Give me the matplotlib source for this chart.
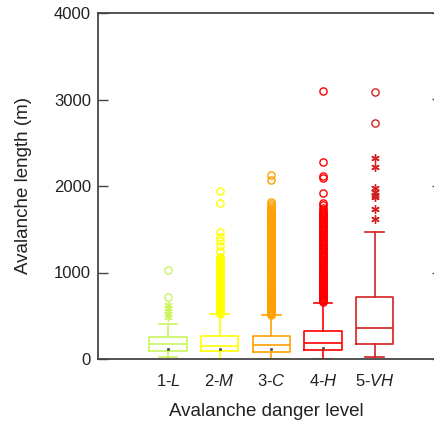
import matplotlib
matplotlib.use('Agg')
import matplotlib.pyplot as plt

plt.rcParams['font.family'] = ['Liberation Sans', 'DejaVu Sans']
plt.rcParams['mathtext.fontset'] = 'custom'
plt.rcParams['mathtext.it'] = 'Liberation Sans:italic'
plt.rcParams['mathtext.rm'] = 'Liberation Sans'

# ---- data ----
level_numbers = ['1', '2', '3', '4', '5']
level_letters = ['L', 'M', 'C', 'H', 'VH']
q1_values = [92, 92, 85, 104, 170]
median_values = [170, 154, 162, 189, 355]
q3_values = [254, 270, 266, 327, 720]
whisker_low = [27, 0, 0, 0, 20]
whisker_high = [405, 517, 509, 651, 1465]

outliers_L = [720, 1032]
extremes_L = [490, 525, 560, 595, 620]

outliers_M = [522, 534, 546, 558, 570, 582, 594, 606, 618, 630, 642, 654, 666,
              678, 690, 702, 714, 726, 738, 750, 762, 774, 786, 798, 810, 822,
              834, 846, 858, 870, 882, 894, 906, 918, 930, 942, 954, 966, 978,
              990, 1002, 1014, 1026, 1038, 1050, 1062, 1074, 1086, 1098, 1110,
              1122, 1134, 1146, 1158, 1170, 1180, 1250, 1305, 1365, 1415, 1465,
              1800, 1946]
extremes_M = []

outliers_C = [512, 524, 536, 548, 560, 572, 584, 596, 608, 620, 632, 644, 656,
              668, 680, 692, 704, 716, 728, 740, 752, 764, 776, 788, 800, 815,
              830, 845, 860, 875, 890, 905, 920, 935, 950, 965, 980, 995, 1010,
              1025, 1040, 1055, 1070, 1085, 1100, 1115, 1130, 1145, 1160, 1175,
              1190, 1205, 1220, 1235, 1250, 1265, 1280, 1295, 1310, 1325, 1340,
              1355, 1370, 1385, 1400, 1415, 1430, 1445, 1460, 1475, 1490, 1505,
              1520, 1535, 1550, 1565, 1580, 1595, 1610, 1625, 1640, 1655, 1670,
              1685, 1700, 1720, 1745, 1770, 1795, 1819, 2069, 2127]
extremes_C = []

outliers_H = [655, 667, 679, 691, 703, 715, 727, 739, 751, 763, 775, 787, 799,
              811, 823, 835, 847, 859, 871, 883, 895, 907, 919, 931, 943, 955,
              967, 979, 991, 1003, 1015, 1030, 1045, 1060, 1075, 1090, 1105,
              1120, 1135, 1150, 1165, 1180, 1195, 1210, 1225, 1240, 1255, 1270,
              1285, 1300, 1315, 1330, 1345, 1360, 1375, 1390, 1405, 1420, 1435,
              1450, 1465, 1480, 1495, 1510, 1525, 1540, 1555, 1570, 1585, 1600,
              1615, 1630, 1645, 1660, 1675, 1690, 1705, 1725, 1750, 1775, 1800,
              1915, 2096, 2119, 2281, 3098]
extremes_H = []

outliers_VH = [2725, 3090]
extremes_VH = [1615, 1734, 1870, 1900, 1930, 1973, 2216, 2320]

outliers = [outliers_L, outliers_M, outliers_C, outliers_H, outliers_VH]
extremes = [extremes_L, extremes_M, extremes_C, extremes_H, extremes_VH]
dot_values = [115, 115, 115, 125]

colors = ['#c8f560', '#ffff00', '#ffa000', '#ff0000', '#d42020']
tick_labels = [n + '-$\\mathit{' + l + '}$' for n, l in zip(level_numbers, level_letters)]

# ---- figure ----
fig = plt.figure(figsize=(4.35, 4.26), dpi=100)
ax = fig.add_axes([98 / 435, 1 - 359 / 426, (435 - 98) / 435, (359 - 13) / 426])

positions = list(range(1, len(level_numbers) + 1))
for i, pos in enumerate(positions):
    stats = [dict(med=median_values[i], q1=q1_values[i], q3=q3_values[i],
                  whislo=whisker_low[i], whishi=whisker_high[i],
                  fliers=outliers[i])]
    c = colors[i]
    lw = 1.2
    ax.bxp(stats, positions=[pos], widths=0.72, showfliers=True,
           boxprops=dict(color=c, linewidth=lw),
           medianprops=dict(color=c, linewidth=lw),
           whiskerprops=dict(color=c, linewidth=lw),
           capprops=dict(color=c, linewidth=lw),
           capwidths=0.36,
           flierprops=dict(marker='o', markerfacecolor='none',
                           markeredgecolor=c, markersize=5.2,
                           markeredgewidth=1.0))
    if extremes[i]:
        ax.plot([pos] * len(extremes[i]), extremes[i], linestyle='none',
                marker=(6, 2, 0), markersize=6, markeredgecolor=c,
                markeredgewidth=1.0, color=c)
for i, v in enumerate(dot_values):
    ax.plot(positions[i], v, linestyle='none', marker='s', markersize=1.1,
            color='#555555')

ax.set_xlim(-0.357, 6.17)
ax.set_ylim(0, 4000)
ax.set_yticks([0, 1000, 2000, 3000, 4000])
ax.set_xticks(positions)
ax.set_xticklabels(tick_labels, fontsize=12)
ax.tick_params(axis='x', length=0, pad=10, colors='#222222')
ax.tick_params(axis='y', direction='in', length=7.2, width=1.0, labelsize=12,
               pad=5, colors='#222222', left=True, right=False, color='#444444')
for s in ['left', 'top', 'bottom']:
    ax.spines[s].set_color('#444444')
    ax.spines[s].set_linewidth(1.3)
ax.spines['right'].set_visible(False)

# short inward ticks on the right edge
ax_r = ax.twinx()
ax_r.set_ylim(ax.get_ylim())
ax_r.set_yticks([0, 1000, 2000, 3000, 4000])
ax_r.tick_params(axis='y', direction='in', length=2.5, width=1.0,
                 labelright=False, color='#444444')
for s in ax_r.spines.values():
    s.set_visible(False)

ax.set_ylabel('Avalanche length (m)', fontsize=13.5, color='#222222', labelpad=16)
ax.set_xlabel('Avalanche danger level', fontsize=13.5, color='#222222', labelpad=10)

fig.savefig('out.png', dpi=100)
